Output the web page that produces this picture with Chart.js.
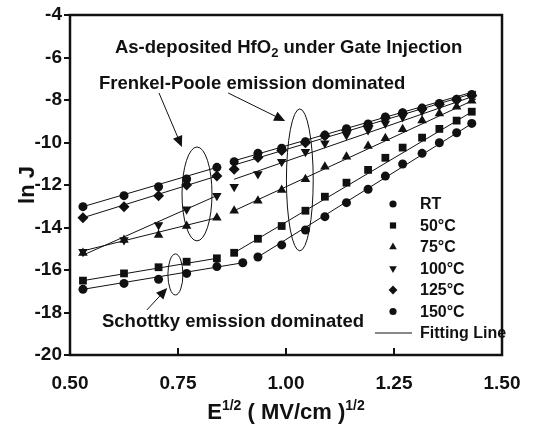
<!DOCTYPE html>
<html>
<head>
<meta charset="utf-8">
<script src="https://cdn.jsdelivr.net/npm/chart.js@4.4.0/dist/chart.umd.min.js"></script>
<style>
  html, body { margin: 0; padding: 0; background: #fff; }
</style>
</head>
<body>
<canvas id="lnJChart" width="542" height="425"></canvas>
<script>
// Trục x: E^(1/2) (MV/cm)^(1/2)
const fieldX = [0.53, 0.625, 0.705, 0.77, 0.84, 0.88, 0.935, 0.99, 1.045, 1.09, 1.14, 1.19, 1.23, 1.27, 1.315, 1.355, 1.395, 1.43];
const rtX    = [0.53, 0.625, 0.705, 0.77, 0.84, 0.90, 0.935, 0.99, 1.045, 1.09, 1.14, 1.19, 1.23, 1.27, 1.315, 1.355, 1.395, 1.43];

const seriesLabels = ['RT', '50°C', '75°C', '100°C', '125°C', '150°C'];

// ln J cho từng nhiệt độ
const lnJ_RT  = [-16.91, -16.63, -16.44, -16.16, -15.84, -15.66, -15.39, -14.82, -14.12, -13.49, -12.83, -12.20, -11.58, -11.01, -10.51, -10.01, -9.54, -9.10];
const lnJ_50  = [-16.50, -16.16, -15.87, -15.61, -15.45, -15.19, -14.53, -13.93, -13.21, -12.55, -11.89, -11.29, -10.72, -10.24, -9.77, -9.36, -8.97, -8.55];
const lnJ_75  = [-15.20, -14.59, -14.35, -13.93, -13.54, -13.21, -12.74, -12.24, -11.73, -11.14, -10.67, -10.16, -9.80, -9.38, -8.97, -8.63, -8.32, -8.03];
const lnJ_100 = [-15.14, -14.59, -13.88, -13.14, -12.50, -12.08, -11.48, -10.90, -10.43, -10.04, -9.65, -9.41, -9.10, -8.80, -8.52, -8.26, -8.05, -7.88];
const lnJ_125 = [-13.54, -13.02, -12.50, -12.00, -11.58, -11.26, -10.70, -10.38, -10.01, -9.68, -9.43, -9.22, -8.85, -8.64, -8.42, -8.20, -8.00, -7.80];
const lnJ_150 = [-13.02, -12.50, -12.08, -11.72, -11.17, -10.90, -10.51, -10.27, -9.96, -9.65, -9.35, -9.13, -8.80, -8.60, -8.38, -8.16, -7.96, -7.74];

// Đường fitting: [x1, y1, x2, y2]
const fitRT  = [[0.53, -16.91, 0.90, -15.66], [0.935, -15.39, 1.435, -9.05]];
const fit50  = [[0.53, -16.50, 0.84, -15.45], [0.88, -15.19, 1.435, -8.50]];
const fit75  = [[0.53, -15.10, 0.84, -13.54], [0.88, -13.21, 1.44, -7.95]];
const fit100 = [[0.53, -15.30, 0.84, -12.50], [0.88, -11.73, 1.44, -7.78]];
const fit125 = [[0.53, -13.54, 0.84, -11.58], [0.88, -11.06, 1.44, -7.65]];
const fit150 = [[0.53, -13.02, 0.84, -11.17], [0.88, -10.86, 1.44, -7.58]];

const xTicks = [0.50, 0.75, 1.00, 1.25, 1.50];
const yTicks = [-20, -18, -16, -14, -12, -10, -8, -6, -4];

const FONT = '"Liberation Sans", Arial, sans-serif';
const INK = '#111';

function toPoints(xs, ys) {
    return xs.map((x, i) => ({ x: x, y: ys[i] }));
}

const markerSets = [
    { label: seriesLabels[0], xs: rtX,    ys: lnJ_RT,  style: 'circle',   rot: 0,   r: 4.5 },
    { label: seriesLabels[1], xs: fieldX, ys: lnJ_50,  style: 'rect',     rot: 0,   r: 5.5 },
    { label: seriesLabels[2], xs: fieldX, ys: lnJ_75,  style: 'triangle', rot: 0,   r: 5.5 },
    { label: seriesLabels[3], xs: fieldX, ys: lnJ_100, style: 'triangle', rot: 180, r: 5.5 },
    { label: seriesLabels[4], xs: fieldX, ys: lnJ_125, style: 'rectRot',  rot: 0,   r: 5.5 },
    { label: seriesLabels[5], xs: fieldX, ys: lnJ_150, style: 'circle',   rot: 0,   r: 4.5 }
];

const datasets = markerSets.map(s => ({
    label: s.label,
    data: toPoints(s.xs, s.ys),
    showLine: false,
    pointStyle: s.style,
    pointRotation: s.rot,
    pointRadius: s.r,
    pointBackgroundColor: INK,
    pointBorderColor: INK,
    pointBorderWidth: 0,
    order: 1
}));

[fitRT, fit50, fit75, fit100, fit125, fit150].forEach(fit => {
    fit.forEach(seg => {
        datasets.push({
            label: 'Fitting Line',
            data: [{ x: seg[0], y: seg[1] }, { x: seg[2], y: seg[3] }],
            showLine: true,
            borderColor: INK,
            borderWidth: 1,
            pointRadius: 0,
            order: 2
        });
    });
});

// Chú thích trên hình (toạ độ theo dữ liệu)
const ellipses = [
    { cx: 0.794, cy: -12.42, rx: 0.0347, ry: 2.21 },
    { cx: 1.032, cy: -11.76, rx: 0.031, ry: 3.34 },
    { cx: 0.744, cy: -16.21, rx: 0.0174, ry: 0.965 }
];
const arrows = [
    { x1: 0.706, y1: -7.67, x2: 0.759, y2: -10.21 },
    { x1: 0.866, y1: -7.67, x2: 0.998, y2: -8.99 },
    { x1: 0.678, y1: -17.88, x2: 0.725, y2: -16.85 }
];

function drawArrow(ctx, x1, y1, x2, y2) {
    const ang = Math.atan2(y2 - y1, x2 - x1);
    const len = 11, half = 5;
    ctx.beginPath();
    ctx.moveTo(x1, y1);
    ctx.lineTo(x2 - Math.cos(ang) * len * 0.8, y2 - Math.sin(ang) * len * 0.8);
    ctx.stroke();
    ctx.beginPath();
    ctx.moveTo(x2, y2);
    ctx.lineTo(x2 - Math.cos(ang) * len - Math.sin(ang) * half, y2 - Math.sin(ang) * len + Math.cos(ang) * half);
    ctx.lineTo(x2 - Math.cos(ang) * len + Math.sin(ang) * half, y2 - Math.sin(ang) * len - Math.cos(ang) * half);
    ctx.closePath();
    ctx.fill();
}

// vẽ chuỗi text có chỉ số trên/dưới
function drawRich(ctx, parts, x, y) {
    let cx = x;
    parts.forEach(p => {
        ctx.font = 'bold ' + p.size + 'px ' + FONT;
        ctx.fillText(p.t, cx, y + (p.dy || 0));
        cx += ctx.measureText(p.t).width;
    });
    return cx - x;
}
function richWidth(ctx, parts) {
    let w = 0;
    parts.forEach(p => {
        ctx.font = 'bold ' + p.size + 'px ' + FONT;
        w += ctx.measureText(p.t).width;
    });
    return w;
}

const paperPlugin = {
    id: 'paperAnnotations',
    afterDatasetsDraw(chart) {
        const { ctx, chartArea: a, scales: { x, y } } = chart;
        ctx.save();
        ctx.fillStyle = INK;
        ctx.strokeStyle = INK;

        // khung
        ctx.lineWidth = 2.5;
        ctx.strokeRect(a.left, a.top, a.right - a.left, a.bottom - a.top);

        // vạch chia trục x hướng vào trong
        ctx.lineWidth = 2;
        x.ticks.forEach(t => {
            const px = x.getPixelForValue(t.value);
            ctx.beginPath();
            ctx.moveTo(px, a.bottom);
            ctx.lineTo(px, a.bottom - 7);
            ctx.stroke();
        });

        // ellipse
        ctx.lineWidth = 1;
        ellipses.forEach(e => {
            const cx = x.getPixelForValue(e.cx), cy = y.getPixelForValue(e.cy);
            const rx = Math.abs(x.getPixelForValue(e.cx + e.rx) - cx);
            const ry = Math.abs(y.getPixelForValue(e.cy + e.ry) - cy);
            ctx.beginPath();
            ctx.ellipse(cx, cy, rx, ry, 0, 0, Math.PI * 2);
            ctx.stroke();
        });

        // mũi tên
        arrows.forEach(r => {
            drawArrow(ctx, x.getPixelForValue(r.x1), y.getPixelForValue(r.y1),
                x.getPixelForValue(r.x2), y.getPixelForValue(r.y2));
        });

        // các dòng chữ
        ctx.textBaseline = 'alphabetic';
        ctx.textAlign = 'left';
        drawRich(ctx, [
            { t: 'As-deposited HfO', size: 18.5 },
            { t: '2', size: 13, dy: 4 },
            { t: ' under Gate Injection', size: 18.5 }
        ], x.getPixelForValue(0.604), y.getPixelForValue(-5.81));
        drawRich(ctx, [{ t: 'Frenkel-Poole emission dominated', size: 18.5 }],
            x.getPixelForValue(0.567), y.getPixelForValue(-7.46));
        drawRich(ctx, [{ t: 'Schottky emission dominated', size: 18.5 }],
            x.getPixelForValue(0.574), y.getPixelForValue(-18.66));

        // chú giải
        const mx = a.left + 323, tx = a.left + 350;
        let ly = a.top + 189;
        ctx.font = 'bold 16px ' + FONT;
        ctx.textBaseline = 'middle';
        markerSets.forEach(s => {
            Chart.helpers.drawPoint(ctx, {
                pointStyle: s.style, rotation: s.rot, radius: s.r * 0.8, borderWidth: 0
            }, mx, ly);
            ctx.fillText(s.label, tx, ly + 1);
            ly += 21.5;
        });
        ctx.lineWidth = 1;
        ctx.beginPath();
        ctx.moveTo(a.left + 305, ly);
        ctx.lineTo(a.left + 342, ly);
        ctx.stroke();
        ctx.fillText('Fitting Line', tx, ly + 1);

        // tiêu đề trục x
        ctx.textBaseline = 'alphabetic';
        const xParts = [
            { t: 'E', size: 22 },
            { t: '1/2', size: 14, dy: -9 },
            { t: ' ( MV/cm )', size: 22 },
            { t: '1/2', size: 14, dy: -9 }
        ];
        const w = richWidth(ctx, xParts);
        drawRich(ctx, xParts, (a.left + a.right) / 2 - w / 2, 419);

        // tiêu đề trục y
        ctx.save();
        ctx.translate(28, (a.top + a.bottom) / 2);
        ctx.rotate(-Math.PI / 2);
        ctx.font = 'bold 22px ' + FONT;
        ctx.textAlign = 'center';
        ctx.textBaseline = 'middle';
        ctx.fillText('ln J', 0, 0);
        ctx.restore();

        ctx.restore();
    }
};

const ctx = document.getElementById('lnJChart').getContext('2d');
const lnJChart = new Chart(ctx, {
    type: 'scatter',
    data: { datasets: datasets },
    options: {
        responsive: false,
        animation: false,
        layout: { padding: { left: 0, top: 15, right: 40, bottom: 0 } },
        plugins: {
            legend: { display: false },
            tooltip: { enabled: false }
        },
        scales: {
            x: {
                type: 'linear',
                min: 0.5,
                max: 1.5,
                afterBuildTicks: s => { s.ticks = xTicks.map(v => ({ value: v })); },
                afterFit: s => { s.height = 70; },
                border: { display: false },
                grid: { display: false },
                ticks: {
                    padding: 9,
                    color: INK,
                    font: { family: FONT, size: 19, weight: 'bold' },
                    callback: v => Number(v).toFixed(2)
                }
            },
            y: {
                type: 'linear',
                min: -20,
                max: -4,
                afterBuildTicks: s => { s.ticks = yTicks.map(v => ({ value: v })); },
                afterFit: s => { s.width = 70; },
                border: { display: false },
                grid: { drawOnChartArea: false, drawTicks: true, tickLength: 6, color: INK, lineWidth: 2 },
                ticks: {
                    padding: 2,
                    color: INK,
                    font: { family: FONT, size: 19, weight: 'bold' },
                    callback: v => String(v)
                }
            }
        }
    },
    plugins: [paperPlugin]
});
</script>
</body>
</html>
